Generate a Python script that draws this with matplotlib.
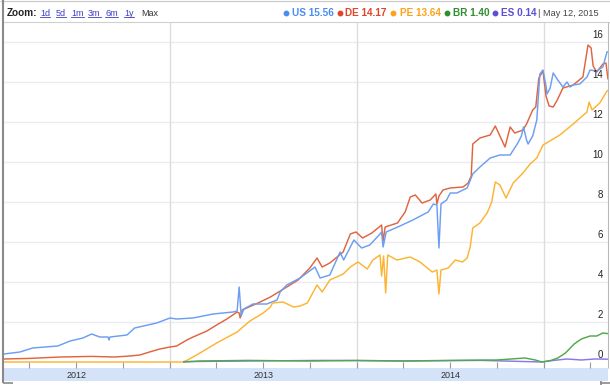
import matplotlib
matplotlib.use("Agg")
import matplotlib.pyplot as plt
import matplotlib.dates as mdates
import pandas as pd
from matplotlib.transforms import blended_transform_factory
from matplotlib.patches import Rectangle
from matplotlib.lines import Line2D

plt.rcParams['font.family'] = ['Liberation Sans', 'DejaVu Sans']

# ---------------- data ----------------
us_dates = ["2012-02-12","2012-03-14","2012-04-08","2012-05-02","2012-05-27","2012-06-20","2012-07-15",
            "2012-08-01","2012-08-17","2012-09-02","2012-09-04","2012-09-06","2012-10-09","2012-10-24",
            "2012-12-06","2013-01-01","2013-01-14","2013-02-15","2013-03-26","2013-05-04","2013-05-12",
            "2013-05-16","2013-05-20","2013-05-25","2013-06-12","2013-07-09","2013-07-29","2013-08-04",
            "2013-08-17","2013-09-12","2013-10-11","2013-10-21","2013-11-09","2013-11-29","2013-12-06",
            "2013-12-26","2014-01-10","2014-01-26","2014-02-15","2014-02-18","2014-02-21","2014-02-27",
            "2014-03-26","2014-04-20","2014-05-20","2014-05-30","2014-06-06","2014-06-10","2014-06-14",
            "2014-06-25","2014-07-02","2014-07-15","2014-08-04","2014-08-15","2014-08-29","2014-09-18",
            "2014-10-07","2014-10-27","2014-11-11","2014-11-18","2014-11-22","2014-11-28","2014-12-01",
            "2014-12-10","2014-12-18","2014-12-24","2014-12-30","2015-01-05","2015-01-07","2015-01-13",
            "2015-01-19","2015-01-28","2015-02-07","2015-02-15","2015-02-21","2015-02-27","2015-03-12",
            "2015-03-26","2015-04-01","2015-04-14","2015-04-26","2015-05-04","2015-05-12"]
us_vals = [0.4,0.5,0.7,0.75,0.8,1.05,1.2,1.4,1.25,1.25,1.1,1.25,1.35,1.7,1.95,2.2,2.15,2.2,2.4,2.5,
           2.55,3.75,2.3,2.65,2.9,2.9,3.1,3.5,3.85,4.2,4.75,4.2,4.35,5.5,5.1,6.1,5.7,5.85,6.4,6.5,
           5.75,6.5,6.8,7.1,7.5,7.9,7.85,5.7,7.9,8.1,8.45,8.45,8.7,9.4,9.75,10.2,10.35,10.35,10.95,
           11.3,11.75,11.1,10.9,11.3,12.1,14.4,14.6,13.8,13.4,13.7,14.45,14.1,13.75,14.0,13.75,13.85,
           13.9,14.25,14.6,14.55,14.75,15.5,15.56]

de_dates = ["2012-02-12","2012-04-01","2012-06-01","2012-08-01","2012-09-15","2012-10-15","2012-11-03",
            "2012-11-22","2012-12-12","2013-01-01","2013-01-14","2013-02-03","2013-02-15","2013-03-14",
            "2013-04-02","2013-04-22","2013-05-12","2013-05-16","2013-05-18","2013-05-22","2013-06-26",
            "2013-07-16","2013-08-17","2013-09-08","2013-10-01","2013-10-15","2013-10-25","2013-11-09",
            "2013-12-05","2013-12-19","2013-12-30","2014-01-12","2014-01-30","2014-02-11","2014-02-18",
            "2014-02-21","2014-02-25","2014-03-21","2014-04-05","2014-04-15","2014-04-25","2014-05-08",
            "2014-05-24","2014-06-04","2014-06-06","2014-06-10","2014-06-18","2014-07-02","2014-07-27",
            "2014-08-06","2014-08-12","2014-08-15","2014-08-29","2014-09-18","2014-09-28","2014-10-07",
            "2014-10-17","2014-10-27","2014-11-05","2014-11-21","2014-11-28","2014-12-10","2014-12-16",
            "2014-12-22","2014-12-30","2015-01-05","2015-01-11","2015-01-19","2015-01-27","2015-02-07",
            "2015-02-27","2015-03-18","2015-03-28","2015-04-03","2015-04-07","2015-04-14","2015-04-26",
            "2015-05-02","2015-05-06","2015-05-12"]
de_vals = [0.15,0.18,0.25,0.28,0.25,0.3,0.35,0.5,0.65,0.75,0.8,1.1,1.25,1.55,1.85,2.15,2.5,2.45,2.2,2.6,
           3.0,3.25,3.75,4.1,4.7,5.2,4.75,4.95,5.5,6.4,6.5,6.2,6.45,6.7,6.85,6.05,6.75,6.95,7.5,8.25,
           8.35,7.95,8.1,8.4,7.9,8.3,8.6,8.7,8.75,8.95,9.3,10.9,11.2,11.35,11.8,11.3,10.75,11.75,11.45,
           11.6,11.9,12.6,12.75,14.2,14.55,13.3,12.8,12.75,13.1,13.7,13.85,14.25,15.85,15.7,14.8,14.5,
           14.9,14.95,14.15,14.17]

pe_dates = ["2012-02-12","2012-12-31","2013-01-28","2013-02-22","2013-04-02","2013-05-12","2013-06-06",
            "2013-07-02","2013-07-16","2013-07-20","2013-08-10","2013-08-30","2013-09-12","2013-09-26",
            "2013-10-15","2013-10-25","2013-11-09","2013-12-05","2013-12-19","2014-01-03","2014-01-21",
            "2014-02-01","2014-02-15","2014-02-18","2014-02-22","2014-02-26","2014-03-02","2014-03-20",
            "2014-04-15","2014-05-04","2014-05-28","2014-06-06","2014-06-10","2014-06-14","2014-06-28",
            "2014-07-12","2014-07-26","2014-08-04","2014-08-10","2014-08-15","2014-08-29","2014-09-12",
            "2014-09-21","2014-09-28","2014-10-07","2014-10-19","2014-11-02","2014-11-21","2014-12-05",
            "2014-12-18","2014-12-30","2015-01-06","2015-02-01","2015-02-27","2015-03-26","2015-03-30",
            "2015-04-05","2015-04-20","2015-05-04","2015-05-12"]
pe_vals = [0,0,0,0.35,0.95,1.5,2.05,2.45,2.75,2.95,3.0,2.75,2.8,2.95,3.85,3.5,4.1,4.4,4.75,5.0,4.65,
           5.1,5.35,4.3,5.3,3.45,5.35,5.1,5.25,5.0,4.5,4.6,3.4,4.6,4.7,5.1,5.0,5.2,5.75,6.7,6.95,7.45,
           8.0,9.0,8.85,8.2,8.95,9.45,9.9,10.2,10.85,10.95,11.35,11.9,12.5,13.0,12.6,12.95,13.55,13.64]

br_dates = ["2013-01-28","2013-03-01","2013-06-01","2013-10-01","2014-01-01","2014-04-01","2014-07-01",
            "2014-10-01","2014-11-25","2014-12-15","2014-12-28","2015-01-15","2015-01-28","2015-02-12",
            "2015-03-01","2015-03-15","2015-04-01","2015-04-14","2015-04-26","2015-05-12"]
br_vals = [0.0,0.05,0.08,0.05,0.08,0.05,0.08,0.1,0.2,0.1,0.0,0.08,0.2,0.45,0.9,1.15,1.3,1.3,1.45,1.40]

es_dates = ["2013-01-28","2013-06-01","2013-11-01","2014-04-01","2014-09-01","2014-12-28","2015-01-20",
            "2015-02-15","2015-03-15","2015-04-10","2015-05-12"]
es_vals = [0.02,0.05,0.08,0.05,0.08,0.0,0.08,0.15,0.1,0.15,0.14]

legend_names = ["US", "DE", "PE", "BR", "ES"]
legend_values = ["15.56", "14.17", "13.64", "1.40", "0.14"]
date_label = "May 12, 2015"
zoom_links = ["1d", "5d", "1m", "3m", "6m", "1y"]
year_labels = [2012, 2013, 2014]
y_ticks = [0, 2, 4, 6, 8, 10, 12, 14, 16]

# ---------------- styles ----------------
line_colors = {"US": "#6c9ef2", "DE": "#e0653f", "PE": "#fdb433", "BR": "#52a94a", "ES": "#8878e8"}
text_colors = {"US": "#4a8cf0", "DE": "#e0452a", "PE": "#ffa21a", "BR": "#2f8f2f", "ES": "#5a4fd6"}

W, H = 610, 385
def fx(px): return px / W
def fy(py): return 1 - py / H

fig = plt.figure(figsize=(6.1, 3.85), dpi=100)
fig.patch.set_facecolor("white")

# x axis band (behind everything)
fig.add_artist(Rectangle((fx(3), fy(381)), fx(608) - fx(3), fy(368) - fy(381),
                         transform=fig.transFigure, facecolor="#d4e3f8", edgecolor="none", zorder=-5))

ax = fig.add_axes([fx(3), fy(368), fx(608) - fx(3), fy(22) - fy(368)])
ax.set_xlim(pd.Timestamp("2012-02-10"), pd.Timestamp("2015-05-06"))
ax.set_ylim(-0.3, 17.0)
ax.patch.set_alpha(0)
for s in ax.spines.values():
    s.set_visible(False)

for v in y_ticks[1:]:
    ax.axhline(v, color="#ebebf4", lw=1.0, zorder=0)
for yr in [2013, 2014, 2015]:
    ax.axvline(pd.Timestamp(f"{yr}-01-01"), color="#dcdcdc", lw=1.0, zorder=0)

series = [("DE", de_dates, de_vals), ("US", us_dates, us_vals), ("PE", pe_dates, pe_vals),
          ("ES", es_dates, es_vals), ("BR", br_dates, br_vals)]
for name, d, v in series:
    ax.plot(pd.to_datetime(d), v, color=line_colors[name], lw=1.05, zorder=3, solid_joinstyle="round")

ax.xaxis.set_major_locator(mdates.YearLocator())
ax.xaxis.set_minor_locator(mdates.MonthLocator([4, 7, 10]))
ax.tick_params(axis="x", which="both", direction="in", length=4, width=0.8, color="#999999",
               labelbottom=False)
ax.set_yticks([])

ytr = blended_transform_factory(ax.transAxes, ax.transData)
for v in y_ticks:
    ax.annotate(str(v), xy=(1, v), xycoords=ytr, xytext=(-5, 2), textcoords="offset pixels",
                ha="right", va="bottom", fontsize=7, color="#222222")

xtr = blended_transform_factory(ax.transData, fig.transFigure)
for yr in year_labels:
    ax.text(pd.Timestamp(f"{yr}-07-02"), fy(375), str(yr), transform=xtr, ha="center",
            va="center", fontsize=6.5, color="#333333", clip_on=False, zorder=10)

# frame lines
def fline(x0, y0, x1, y1, color, lw):
    fig.add_artist(Line2D([fx(x0), fx(x1)], [fy(y0), fy(y1)], transform=fig.transFigure,
                          color=color, lw=lw, solid_capstyle="butt"))

fline(0, 0.5, 610, 0.5, "#c8c8c8", 0.8)
fline(2, 22, 610, 22, "#d0d0d0", 0.8)
fline(2.5, 0, 2.5, 383, "#8a8a8a", 1.5)
fline(2.5, 383, 13, 383, "#8a8a8a", 1.2)
fline(608, 22, 608, 368, "#b8b8b8", 0.8)
fline(600.5, 381, 600.5, 385, "#8a8a8a", 1.2)
fline(600, 382.5, 610, 382.5, "#8a8a8a", 1.2)

# header
hy = fy(13)
fig.text(fx(7), hy, "Zoom:", fontsize=7.2, fontweight="bold", color="#222222", va="center", ha="left")
link_x = [40, 56, 71, 88, 105, 124]
link_texts = []
for lx, lab in zip(link_x, zoom_links):
    t = fig.text(fx(lx), hy, lab, fontsize=6.5, color="#3c3cc8", va="center", ha="left")
    link_texts.append(t)
fig.text(fx(141), hy, "Max", fontsize=6.5, color="#333333", va="center", ha="left")

dot_x = [286, 340, 393, 447, 495]
txt_x = [292, 345, 400, 453, 501]
for name, val, dx, tx in zip(legend_names, legend_values, dot_x, txt_x):
    fig.add_artist(Line2D([fx(dx)], [hy], transform=fig.transFigure, marker="o", markersize=3.2,
                          color=text_colors[name], linestyle="none"))
    fig.text(fx(tx), hy, f"{name} {val}", fontsize=7.2, fontweight="bold",
             color=text_colors[name], va="center", ha="left")
fig.text(fx(538), hy, "| " + date_label, fontsize=6.6, color="#444444", va="center", ha="left")

fig.canvas.draw()
r = fig.canvas.get_renderer()
for t in link_texts:
    bb = t.get_window_extent(r)
    yy = bb.y0 + 1
    fig.add_artist(Line2D([bb.x0 / W, bb.x1 / W], [yy / H, yy / H], transform=fig.transFigure,
                          color="#3c3cc8", lw=0.6))

fig.savefig("out.png", dpi=100)
